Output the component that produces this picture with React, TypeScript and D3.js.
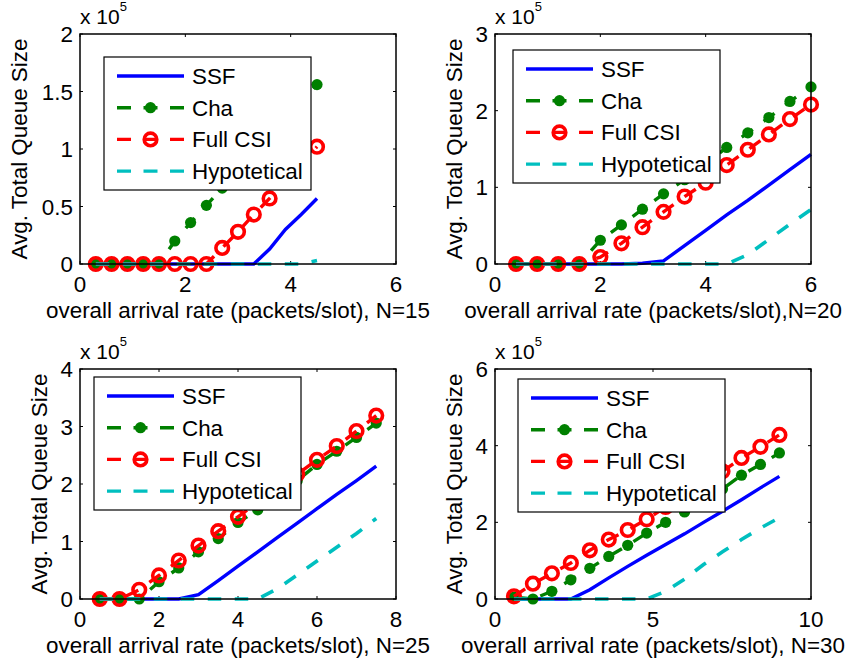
import React, { useEffect, useRef } from 'react';
import * as d3 from 'd3';

// arrival rates (x) per panel
const rate15 = [0.3, 0.6, 0.9, 1.2, 1.5, 1.8, 2.1, 2.4, 2.7, 3.0, 3.3, 3.6, 3.9, 4.2, 4.5];
const rate20 = [0.4, 0.8, 1.2, 1.6, 2.0, 2.4, 2.8, 3.2, 3.6, 4.0, 4.4, 4.8, 5.2, 5.6, 6.0];
const rate25 = [0.5, 1.0, 1.5, 2.0, 2.5, 3.0, 3.5, 4.0, 4.5, 5.0, 5.5, 6.0, 6.5, 7.0, 7.5];
const rate30 = [0.6, 1.2, 1.8, 2.4, 3.0, 3.6, 4.2, 4.8, 5.4, 6.0, 6.6, 7.2, 7.8, 8.4, 9.0];

// queue sizes, in units of 1e5
const ssf15 = [0, 0, 0, 0, 0, 0, 0, 0, 0, 0, 0, 0.13, 0.3, 0.43, 0.57];
const cha15 = [0, 0, 0, 0, 0, 0.2, 0.36, 0.51, 0.66, 0.81, 0.96, 1.11, 1.26, 1.41, 1.56];
const csi15 = [0, 0, 0, 0, 0, 0, 0, 0, 0.14, 0.28, 0.43, 0.57, 0.72, 0.87, 1.02];
const hyp15 = [0, 0, 0, 0, 0, 0, 0, 0, 0, 0, 0, 0, 0, 0, 0.03];

const ssf20 = [0, 0, 0, 0, 0, 0, 0.01, 0.04, 0.24, 0.44, 0.64, 0.83, 1.03, 1.23, 1.43];
const cha20 = [0, 0, 0, 0, 0.31, 0.51, 0.715, 0.915, 1.1, 1.31, 1.52, 1.71, 1.91, 2.12, 2.31];
const csi20 = [0, 0, 0, 0, 0.09, 0.27, 0.48, 0.68, 0.88, 1.06, 1.29, 1.49, 1.69, 1.89, 2.08];
const hyp20 = [0, 0, 0, 0, 0, 0, 0, 0, 0, 0, 0, 0.12, 0.32, 0.52, 0.71];

const ssf25 = [0, 0, 0, 0, 0, 0.075, 0.32, 0.57, 0.82, 1.07, 1.32, 1.57, 1.82, 2.06, 2.31];
const cha25 = [0, 0, 0, 0.3, 0.54, 0.82, 1.05, 1.33, 1.55, 1.8, 2.06, 2.34, 2.57, 2.81, 3.06];
const csi25 = [0, 0, 0.16, 0.41, 0.67, 0.93, 1.18, 1.43, 1.68, 1.93, 2.17, 2.42, 2.66, 2.92, 3.19];
const hyp25 = [0, 0, 0, 0, 0, 0, 0, 0, 0, 0.18, 0.42, 0.66, 0.9, 1.14, 1.4];

const ssf30 = [0, 0, 0, 0, 0.24, 0.55, 0.85, 1.14, 1.42, 1.7, 2.0, 2.29, 2.59, 2.9, 3.2];
const cha30 = [0.05, 0, 0.2, 0.5, 0.8, 1.11, 1.4, 1.72, 2.0, 2.27, 2.55, 2.87, 3.23, 3.51, 3.81];
const csi30 = [0.07, 0.4, 0.67, 0.94, 1.27, 1.55, 1.8, 2.08, 2.4, 2.7, 2.98, 3.33, 3.68, 3.97, 4.28];
const hyp30 = [0, 0, 0, 0, 0, 0, 0, 0, 0.2, 0.52, 0.9, 1.23, 1.55, 1.85, 2.12];

// axis ticks
const xTicks15 = [0, 2, 4, 6];
const xTicks20 = [0, 2, 4, 6];
const xTicks25 = [0, 2, 4, 6, 8];
const xTicks30 = [0, 5, 10];
const yTicks15 = [0, 0.5, 1, 1.5, 2];
const yTicks20 = [0, 1, 2, 3];
const yTicks25 = [0, 1, 2, 3, 4];
const yTicks30 = [0, 2, 4, 6];

const legendNames = ['SSF', 'Cha', 'Full CSI', 'Hypotetical'];

const panels = [
    { x: rate15, ssf: ssf15, cha: cha15, csi: csi15, hyp: hyp15, xTicks: xTicks15, yTicks: yTicks15,
      xLabel: 'overall arrival rate (packets/slot), N=15', left: 80, top: 34, lgX: 24, lgY: 23 },
    { x: rate20, ssf: ssf20, cha: cha20, csi: csi20, hyp: hyp20, xTicks: xTicks20, yTicks: yTicks20,
      xLabel: 'overall arrival rate (packets/slot),N=20', left: 495, top: 34, lgX: 18, lgY: 16 },
    { x: rate25, ssf: ssf25, cha: cha25, csi: csi25, hyp: hyp25, xTicks: xTicks25, yTicks: yTicks25,
      xLabel: 'overall arrival rate (packets/slot), N=25', left: 80, top: 369, lgX: 14, lgY: 8 },
    { x: rate30, ssf: ssf30, cha: cha30, csi: csi30, hyp: hyp30, xTicks: xTicks30, yTicks: yTicks30,
      xLabel: 'overall arrival rate (packets/slot), N=30', left: 495, top: 369, lgX: 23, lgY: 10 },
];

const BLUE = '#0000ff';
const GREEN = '#008000';
const RED = '#ff0000';
const CYAN = '#00bfbf';
const FONT = '"Liberation Sans", Arial, Helvetica, sans-serif';
const FS = 22.4;
const DASH = '13.5,13.5';

const App = () => {
    const ref = useRef(null);

    useEffect(() => {
        const svg = d3.select(ref.current);
        svg.selectAll('*').remove();

        const W = 316;
        const H = 230;
        const tick = 3;

        panels.forEach(p => {
            const g = svg.append('g').attr('transform', `translate(${p.left},${p.top})`);
            const xMax = p.xTicks[p.xTicks.length - 1];
            const yMax = p.yTicks[p.yTicks.length - 1];
            const x = d3.scaleLinear().domain([0, xMax]).range([0, W]);
            const y = d3.scaleLinear().domain([0, yMax]).range([H, 0]);

            // ticks, inward on all four sides
            p.xTicks.forEach(t => {
                g.append('line').attr('x1', x(t)).attr('x2', x(t)).attr('y1', H).attr('y2', H - tick)
                    .attr('stroke', '#000');
                g.append('line').attr('x1', x(t)).attr('x2', x(t)).attr('y1', 0).attr('y2', tick)
                    .attr('stroke', '#000');
                g.append('text').attr('x', x(t)).attr('y', H + 28).attr('text-anchor', 'middle')
                    .attr('font-family', FONT).attr('font-size', FS).text(t);
            });
            p.yTicks.forEach(t => {
                g.append('line').attr('x1', 0).attr('x2', tick).attr('y1', y(t)).attr('y2', y(t))
                    .attr('stroke', '#000');
                g.append('line').attr('x1', W).attr('x2', W - tick).attr('y1', y(t)).attr('y2', y(t))
                    .attr('stroke', '#000');
                g.append('text').attr('x', -7).attr('y', y(t)).attr('dy', '0.36em').attr('text-anchor', 'end')
                    .attr('font-family', FONT).attr('font-size', FS).text(t);
            });

            const line = d3.line().x(d => x(d[0])).y(d => y(d[1]));
            const pts = vals => p.x.map((v, i) => [v, vals[i]]);

            // SSF
            g.append('path').attr('d', line(pts(p.ssf))).attr('fill', 'none')
                .attr('stroke', BLUE).attr('stroke-width', 3.4);

            // Cha
            g.append('path').attr('d', line(pts(p.cha))).attr('fill', 'none')
                .attr('stroke', GREEN).attr('stroke-width', 3.4).attr('stroke-dasharray', DASH);
            g.selectAll('.cha').data(pts(p.cha)).enter().append('circle')
                .attr('cx', d => x(d[0])).attr('cy', d => y(d[1])).attr('r', 5.6)
                .attr('fill', GREEN);

            // Full CSI
            g.append('path').attr('d', line(pts(p.csi))).attr('fill', 'none')
                .attr('stroke', RED).attr('stroke-width', 3.4).attr('stroke-dasharray', DASH);
            g.selectAll('.csi').data(pts(p.csi)).enter().append('circle')
                .attr('cx', d => x(d[0])).attr('cy', d => y(d[1])).attr('r', 6.3)
                .attr('fill', 'none').attr('stroke', RED).attr('stroke-width', 3.6);

            // Hypotetical
            g.append('path').attr('d', line(pts(p.hyp))).attr('fill', 'none')
                .attr('stroke', CYAN).attr('stroke-width', 3.6).attr('stroke-dasharray', DASH);

            // box
            g.append('rect').attr('width', W).attr('height', H).attr('fill', 'none')
                .attr('stroke', '#000').attr('stroke-width', 1.5);

            // exponent
            const ex = g.append('text').attr('x', 0).attr('y', -10)
                .attr('font-family', FONT).attr('font-size', 21);
            ex.append('tspan').text('x 10');
            ex.append('tspan').attr('font-size', 13).attr('dy', -13).text('5');

            // axis labels
            g.append('text').attr('x', W / 2).attr('y', H + 54).attr('text-anchor', 'middle')
                .attr('font-family', FONT).attr('font-size', FS).text(p.xLabel);
            const ylx = p.yTicks.some(t => String(t).length > 1) ? -53 : -33;
            g.append('text').attr('transform', `translate(${ylx},${H / 2}) rotate(-90)`)
                .attr('text-anchor', 'middle').attr('font-family', FONT).attr('font-size', FS)
                .text('Avg. Total Queue Size');

            // legend
            const lg = g.append('g').attr('transform', `translate(${p.lgX},${p.lgY})`);
            lg.append('rect').attr('width', 207).attr('height', 133).attr('fill', '#fff')
                .attr('stroke', '#000').attr('stroke-width', 1.2);
            const colors = [BLUE, GREEN, RED, CYAN];
            legendNames.forEach((name, i) => {
                const ry = 19 + i * 31.7;
                const l = lg.append('line').attr('x1', 13).attr('x2', 80).attr('y1', ry).attr('y2', ry)
                    .attr('stroke', colors[i]).attr('stroke-width', 3.4);
                if (i > 0) l.attr('stroke-dasharray', '14,12.5');
                if (i === 1) {
                    lg.append('circle').attr('cx', 46.5).attr('cy', ry).attr('r', 5.6).attr('fill', GREEN);
                }
                if (i === 2) {
                    lg.append('circle').attr('cx', 46.5).attr('cy', ry).attr('r', 6.3)
                        .attr('fill', 'none').attr('stroke', RED).attr('stroke-width', 3.6);
                }
                lg.append('text').attr('x', 88).attr('y', ry).attr('dy', '0.36em')
                    .attr('font-family', FONT).attr('font-size', FS).text(name);
            });
        });
    }, []);

    return (
        <div style={{ position: 'absolute', left: 0, top: 0 }}>
            <svg ref={ref} width={848} height={663} style={{ display: 'block', background: '#fff' }} />
        </div>
    );
};

export default App;
